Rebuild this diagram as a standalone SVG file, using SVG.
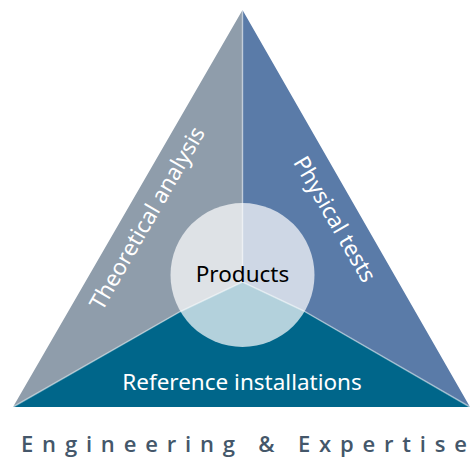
<svg xmlns="http://www.w3.org/2000/svg" width="471" height="457" viewBox="0 0 471 457">
  <style>
    .lbl { font-family: "Noto Sans", "Open Sans", "Liberation Sans", sans-serif; font-size: 22.5px; }
    .white { fill: #ffffff; }
    .divider { fill: none; stroke: #ffffff; stroke-opacity: 0.45; stroke-width: 1.5; }
  </style>
  <rect width="471" height="457" fill="#ffffff"/>
  <g id="theoretical-analysis">
    <polygon points="242.5,10 242.5,282 180,311.7 13,407" fill="#8f9dab"/>
    <text class="lbl white" text-anchor="middle" transform="translate(147,218) rotate(-60)" y="8">Theoretical analysis</text>
  </g>
  <g id="physical-tests">
    <polygon points="242.5,10 470,407 303.3,310.7 242.5,282" fill="#5a7ba8"/>
    <text class="lbl white" text-anchor="middle" transform="translate(335,219) rotate(60)" y="8">Physical tests</text>
  </g>
  <g id="reference-installations">
    <polygon points="13,407 180,311.7 242.5,282 303.3,310.7 470,407" fill="#00668a"/>
    <text class="lbl white" x="242" y="390" text-anchor="middle">Reference installations</text>
  </g>
  <g id="connectors">
    <polyline class="divider" points="242.5,10 242.5,282"/>
    <polyline class="divider" points="13,407 180,311.7 242.5,282"/>
    <polyline class="divider" points="470,407 303.3,310.7 242.5,282"/>
  </g>
  <g id="products">
    <circle cx="242.5" cy="275" r="72" fill="#ffffff" fill-opacity="0.7"/>
    <text class="lbl" x="242.5" y="281.5" text-anchor="middle" fill="#000000">Products</text>
  </g>
  <g id="footer">
    <text x="21" y="452" textLength="446" lengthAdjust="spacing" font-family="'Open Sans', 'Noto Sans', 'Liberation Sans', sans-serif" font-size="22" font-weight="600" fill="#44576a">Engineering &amp; Expertise</text>
  </g>
</svg>
